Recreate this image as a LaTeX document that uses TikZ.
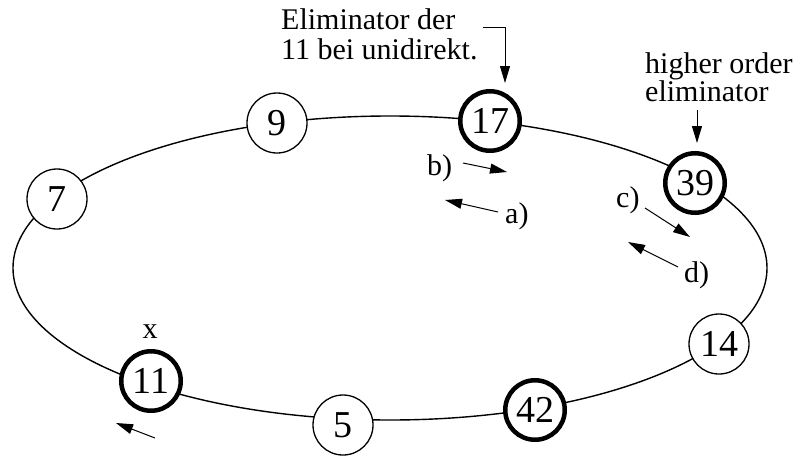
\documentclass[tikz,border=0pt]{standalone}
\usepackage{fontspec}
\setmainfont{Liberation Serif}
\usetikzlibrary{arrows.meta}
\begin{document}
\begin{tikzpicture}[x=1pt,y=-1pt,
  ring/.style={line width=1.4pt},
  proc/.style={circle,draw,fill=white,line width=1.3pt,minimum size=60pt,inner sep=0pt,font=\fontsize{38}{40}\selectfont},
  elim/.style={proc,line width=4.5pt,minimum size=59.5pt},
  lbl/.style={font=\fontsize{30}{30}\selectfont,inner sep=0pt},
  arr/.style={line width=1pt,-{Triangle[length=17pt,width=10pt]}}]
\useasboundingbox (0,0) rectangle (800,455);
% ring
\draw[ring] (390,268) ellipse [x radius=377pt, y radius=152pt];
% processes
\node[proc] (n9)  at (277,123) {9};
\node[elim] (n17) at (490,121) {17};
\node[proc] (n7)  at (57,199)  {7};
\node[elim] (n39) at (695,183) {39};
\node[proc] (n14) at (719,344) {14};
\node[elim] (n42) at (535,410) {42};
\node[proc] (n5)  at (343,425) {5};
\node[elim] (n11) at (151,381) {11};
% labels
\node[lbl,align=left,anchor=south west] (elimlbl) at (281,60) {Eliminator der\\11 bei unidirekt.};
\node[lbl,align=left,anchor=south west,font=\fontsize{30}{28}\selectfont] (holbl) at (645,102) {higher order\\eliminator};
\node[lbl,anchor=base] (xlbl) at (150,338) {x};
\node[lbl,anchor=base west] (blbl) at (427,175) {b)};
\node[lbl,anchor=base west] (albl) at (505,223) {a)};
\node[lbl,anchor=base west] (clbl) at (616,207) {c)};
\node[lbl,anchor=base west] (dlbl) at (684,282) {d)};
% arrow ends
\coordinate (e1) at (483,27);
\coordinate (e2) at (505,83);
\coordinate (h1) at (697,110);
\coordinate (h2) at (697,143);
\coordinate (bs) at (463,163);
\coordinate (be) at (507,172);
\coordinate (as) at (498,212);
\coordinate (ae) at (445,200);
\coordinate (cs) at (645,208);
\coordinate (ce) at (690,237);
\coordinate (ds) at (678,267);
\coordinate (de) at (628,242);
\coordinate (ls) at (155,438);
\coordinate (le) at (116,423);
% arrows
\draw[arr] (e1) -| (e2);
\draw[arr] (h1) -- (h2);
\draw[arr] (bs) -- (be);
\draw[arr] (as) -- (ae);
\draw[arr] (cs) -- (ce);
\draw[arr] (ds) -- (de);
\draw[arr] (ls) -- (le);
\end{tikzpicture}
\end{document}
